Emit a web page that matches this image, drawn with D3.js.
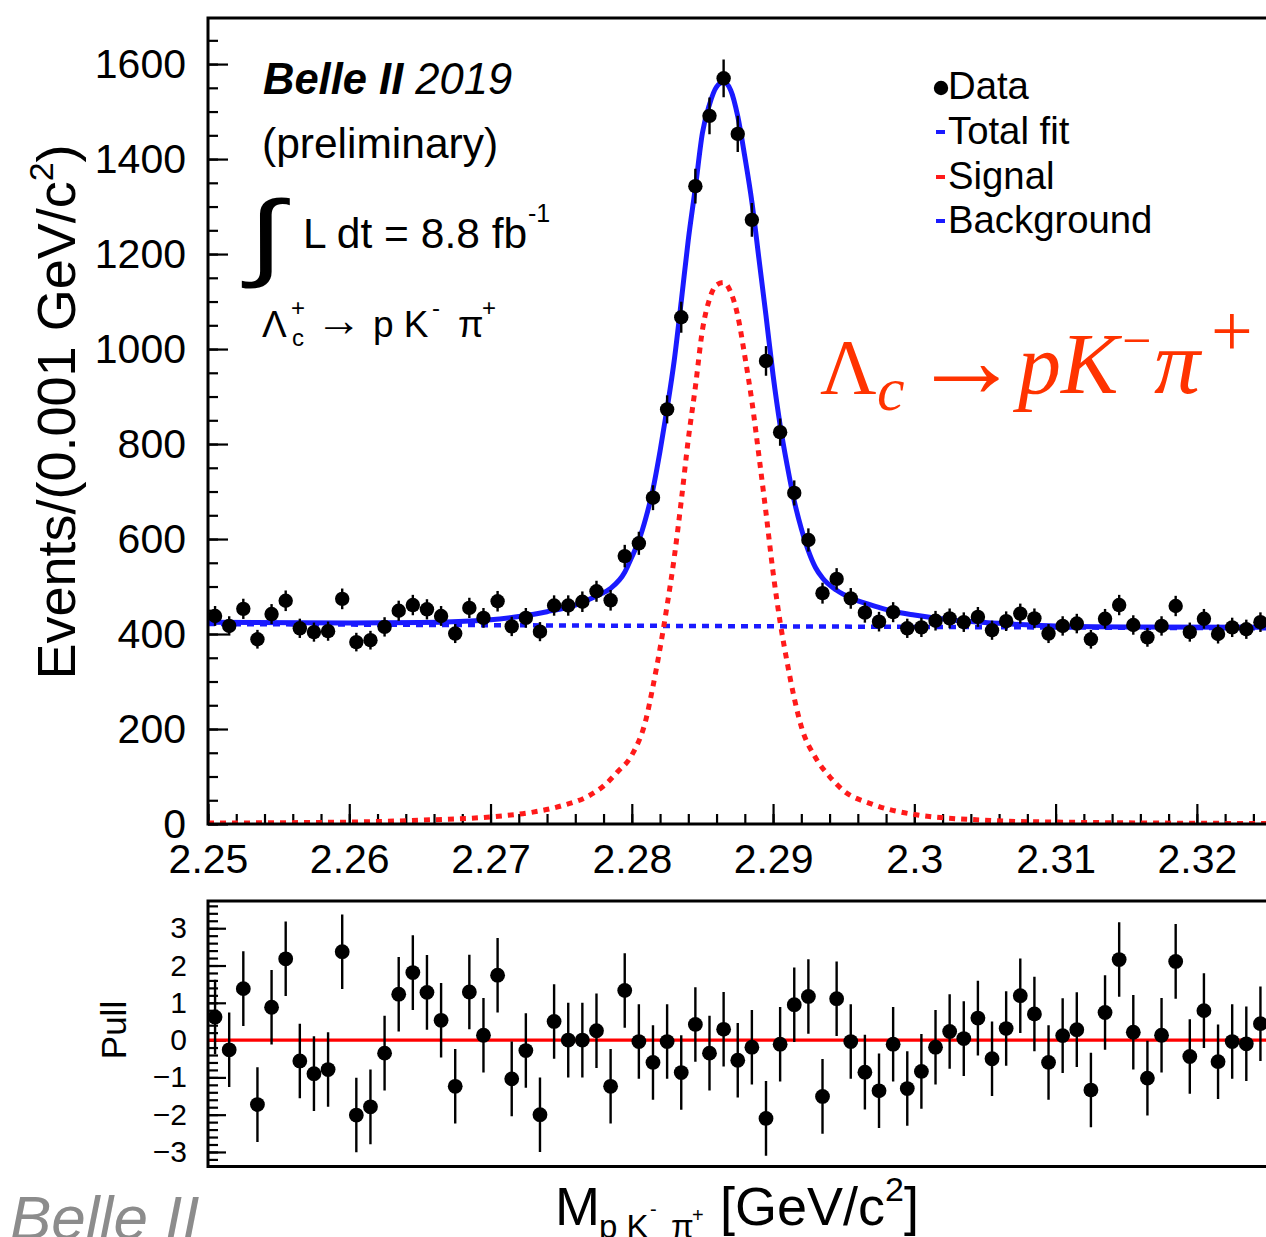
<!DOCTYPE html>
<html><head><meta charset="utf-8">
<script src="https://cdn.jsdelivr.net/npm/d3@7"></script>
<style>
body{margin:0;background:#fff;}
svg{display:block;font-family:"Liberation Sans",Arial,Helvetica,sans-serif;}
</style>
</head><body>
<svg id="c" width="1266" height="1237"></svg>
<script>
// ---------------- data ----------------
const binLow = 2.25, binWidth = 0.001;
const counts = [438,417,453,389,442,470,412,404,406,474,383,387,415,449,461,452,438,401,455,434,
  469,416,434,405,460,460,468,490,471,564,591,687,873,1067,1343,1491,1570,1453,1272,975,
  825,697,598,486,516,475,445,426,446,412,414,428,433,425,436,408,427,443,433,401,
  417,422,389,432,461,419,393,417,459,404,432,400,414,410,425];
const pulls = [0.62,-0.26,1.38,-1.73,0.88,2.18,-0.56,-0.90,-0.79,2.37,-2.01,-1.79,-0.35,1.23,1.81,1.28,0.53,-1.24,1.29,0.13,
  1.74,-1.04,-0.28,-2.00,0.50,0.00,0.00,0.25,-1.24,1.33,-0.04,-0.60,-0.04,-0.87,0.42,-0.35,0.29,-0.54,-0.19,-2.10,
  -0.11,0.95,1.17,-1.51,1.11,-0.04,-0.86,-1.36,-0.11,-1.30,-0.84,-0.19,0.23,0.04,0.59,-0.50,0.31,1.19,0.70,-0.60,
  0.12,0.28,-1.34,0.74,2.16,0.21,-1.02,0.13,2.11,-0.44,0.79,-0.58,-0.04,-0.10,0.44];
const totalFitX = [2.2500,2.2600,2.2650,2.2700,2.2720,2.2740,2.2760,2.2775,2.2785,2.2795,2.2800,2.2805,2.2810,2.2815,2.2820,2.2825,2.2830,2.2835,2.2840,2.2845,2.2850,2.2855,2.2860,2.2865,2.2870,2.2875,2.2880,2.2885,2.2890,2.2895,2.2900,2.2905,2.2910,2.2915,2.2920,2.2925,2.2930,2.2935,2.2945,2.2955,2.2965,2.2975,2.2985,2.3000,2.3025,2.3050,2.3075,2.3100,2.3150,2.3250];
const totalFitY = [425,423,424,430,437,447,461,480,496,530,562,597,645,705,785,875,975,1100,1230,1340,1455,1515,1552,1562,1545,1490,1405,1310,1190,1070,945,840,755,680,622,575,540,518,492,476,465,456,448,440,430,424,420,417,415,414];
const signalX = [2.2500,2.2600,2.2650,2.2700,2.2730,2.2750,2.2770,2.2780,2.2790,2.2800,2.2810,2.2815,2.2820,2.2825,2.2830,2.2835,2.2840,2.2845,2.2850,2.2855,2.2860,2.2865,2.2870,2.2875,2.2880,2.2885,2.2890,2.2895,2.2900,2.2905,2.2910,2.2915,2.2920,2.2930,2.2940,2.2950,2.2970,2.3000,2.3050,2.3100,2.3250];
const signalY = [2,4,8,15,25,38,60,80,110,145,220,290,370,460,560,680,810,920,1040,1105,1135,1140,1120,1070,985,890,775,655,530,425,340,265,205,140,100,70,42,20,8,4,1];
const bkgX = [2.25,2.325];
const bkgY = [421,412];
const xTicks = [2.25,2.26,2.27,2.28,2.29,2.30,2.31,2.32];
const xTickLabels = ["2.25","2.26","2.27","2.28","2.29","2.3","2.31","2.32"];
const yTicks = [0,200,400,600,800,1000,1200,1400,1600];
const pullTicks = [-3,-2,-1,0,1,2,3];
const legendLabels = ["Data","Total fit","Signal","Background"];

// ---------------- scales ----------------
const svg = d3.select("#c");
const X0 = 208, X1 = 1267.5;
const x = d3.scaleLinear().domain([2.25,2.325]).range([X0,X1]);
const y = d3.scaleLinear().domain([0,1697]).range([824,18]);
const yp = d3.scaleLinear().domain([-3.39,3.73]).range([1166.5,901]);

const defs = svg.append("defs");
defs.append("clipPath").attr("id","clipTop").append("rect")
  .attr("x",X0).attr("y",y.range()[1]).attr("width",X1-X0).attr("height",y.range()[0]-y.range()[1]);
defs.append("clipPath").attr("id","clipPull").append("rect")
  .attr("x",X0).attr("y",yp.range()[1]).attr("width",X1-X0).attr("height",yp.range()[0]-yp.range()[1]);

const centers = counts.map((c,i)=>binLow + (i+0.5)*binWidth);

// ---------------- axes ----------------
function styleAxis(g, fs){
  g.select(".domain").remove();
  g.attr("font-family",null);
  g.selectAll(".tick line").attr("stroke","#000").attr("stroke-width",2.2);
  g.selectAll(".tick text").attr("font-size",fs).attr("fill","#000");
}
svg.append("g").attr("transform",`translate(${X0},0)`)
  .call(d3.axisLeft(y).tickValues(d3.range(0,1697,50)).tickSize(-10).tickFormat(""))
  .call(g=>styleAxis(g,0));
svg.append("g").attr("transform",`translate(${X0},0)`)
  .call(d3.axisLeft(y).tickValues(yTicks).tickSize(-20).tickPadding(22).tickFormat(d3.format("d")))
  .call(g=>styleAxis(g,41));
svg.append("g").attr("transform","translate(0,824)")
  .call(d3.axisBottom(x).tickValues(d3.range(0,38).map(i=>2.25+i*0.002)).tickSize(-10).tickFormat(""))
  .call(g=>styleAxis(g,0));
svg.append("g").attr("transform","translate(0,824)")
  .call(d3.axisBottom(x).tickValues(xTicks).tickSize(-20).tickPadding(20).tickFormat((d,i)=>xTickLabels[i]))
  .call(g=>styleAxis(g,41));
svg.append("g").attr("transform",`translate(${X0},0)`)
  .call(d3.axisLeft(yp).tickValues(d3.range(-16,19).map(i=>i*0.2)).tickSize(-10).tickFormat(""))
  .call(g=>styleAxis(g,0));
svg.append("g").attr("transform",`translate(${X0},0)`)
  .call(d3.axisLeft(yp).tickValues(pullTicks).tickSize(-18).tickPadding(21).tickFormat(d3.format("d")))
  .call(g=>styleAxis(g,30));

// ---------------- curves ----------------
const topG = svg.append("g").attr("clip-path","url(#clipTop)");
const lineTop = d3.line().x(d=>x(d[0])).y(d=>y(d[1])).curve(d3.curveMonotoneX);
topG.append("path").datum(bkgX.map((v,i)=>[v,bkgY[i]]))
  .attr("d",d3.line().x(d=>x(d[0])).y(d=>y(d[1])))
  .attr("fill","none").attr("stroke","#1a1aff").attr("stroke-width",4.5).attr("stroke-dasharray","7,6");
topG.append("path").datum(signalX.map((v,i)=>[v,signalY[i]]))
  .attr("d",lineTop).attr("fill","none").attr("stroke","#ff1a1a").attr("stroke-width",5).attr("stroke-dasharray","6,6");
topG.append("path").datum(totalFitX.map((v,i)=>[v,totalFitY[i]]))
  .attr("d",lineTop).attr("fill","none").attr("stroke","#1a1aff").attr("stroke-width",5);

const dg = topG.append("g");
dg.selectAll("line").data(counts).join("line")
  .attr("x1",(d,i)=>x(centers[i])).attr("x2",(d,i)=>x(centers[i]))
  .attr("y1",d=>y(d+Math.sqrt(d))).attr("y2",d=>y(d-Math.sqrt(d)))
  .attr("stroke","#000").attr("stroke-width",2.4);
dg.selectAll("circle").data(counts).join("circle")
  .attr("cx",(d,i)=>x(centers[i])).attr("cy",d=>y(d)).attr("r",7.2).attr("fill","#000");

svg.append("rect").attr("x",X0).attr("y",y.range()[1]).attr("width",X1-X0).attr("height",y.range()[0]-y.range()[1])
  .attr("fill","none").attr("stroke","#000").attr("stroke-width",3);

// ---------------- pull panel ----------------
const pg = svg.append("g").attr("clip-path","url(#clipPull)");
pg.append("line").attr("x1",X0).attr("x2",X1).attr("y1",yp(0)).attr("y2",yp(0))
  .attr("stroke","#ff0000").attr("stroke-width",3.2);
pg.selectAll("line.err").data(pulls).join("line").attr("class","err")
  .attr("x1",(d,i)=>x(centers[i])).attr("x2",(d,i)=>x(centers[i]))
  .attr("y1",d=>yp(d+1)).attr("y2",d=>yp(d-1))
  .attr("stroke","#000").attr("stroke-width",2.4);
pg.selectAll("circle").data(pulls).join("circle")
  .attr("cx",(d,i)=>x(centers[i])).attr("cy",d=>yp(d)).attr("r",7.4).attr("fill","#000");
svg.append("rect").attr("x",X0).attr("y",yp.range()[1]).attr("width",X1-X0).attr("height",yp.range()[0]-yp.range()[1])
  .attr("fill","none").attr("stroke","#000").attr("stroke-width",3);

// ---------------- axis titles ----------------
const yt = svg.append("text").attr("transform","translate(75,412) rotate(-90)")
  .attr("text-anchor","middle").attr("font-size",54).attr("fill","#000");
yt.append("tspan").text("Events/(0.001 GeV/c");
yt.append("tspan").attr("font-size",34).attr("dy",-22).text("2");
yt.append("tspan").attr("dy",22).text(")");

svg.append("text").attr("transform","translate(126,1030) rotate(-90)")
  .attr("text-anchor","middle").attr("font-size",35).text("Pull");

svg.append("text").attr("x",555).attr("y",1225).attr("font-size",54).text("M");
svg.append("text").attr("x",599).attr("y",1238).attr("font-size",33).text("p K");
svg.append("text").attr("x",650).attr("y",1216).attr("font-size",20).text("-");
svg.append("text").attr("x",671).attr("y",1238).attr("font-size",33).text("π");
svg.append("text").attr("x",692).attr("y",1222).attr("font-size",20).text("+");
const xt = svg.append("text").attr("x",720).attr("y",1225).attr("font-size",54);
xt.append("tspan").text("[GeV/c");
xt.append("tspan").attr("font-size",34).attr("dy",-24).text("2");
xt.append("tspan").attr("dy",24).text("]");

// ---------------- annotations ----------------
const t1 = svg.append("text").attr("x",263).attr("y",94).attr("font-size",43.5).attr("font-style","italic");
t1.append("tspan").attr("font-weight","bold").text("Belle II");
t1.append("tspan").text(" 2019");
svg.append("text").attr("x",262).attr("y",158).attr("font-size",42.5).text("(preliminary)");
svg.append("text").attr("transform","translate(248,268) scale(1.35,1)").attr("font-size",96).text("∫");
svg.append("text").attr("x",303).attr("y",248).attr("font-size",42.5).text("L dt = 8.8 fb");
svg.append("text").attr("x",528).attr("y",222).attr("font-size",25).text("-1");

svg.append("text").attr("x",262).attr("y",337).attr("font-size",37).text("Λ");
svg.append("text").attr("x",291).attr("y",316).attr("font-size",24).text("+");
svg.append("text").attr("x",292).attr("y",346).attr("font-size",24).text("c");
svg.append("text").attr("x",316).attr("y",336).attr("font-size",46).text("→");
svg.append("text").attr("x",373).attr("y",337).attr("font-size",37).text("p K");
svg.append("text").attr("x",432).attr("y",316).attr("font-size",24).text("-");
svg.append("text").attr("x",458).attr("y",337).attr("font-size",37).text("π");
svg.append("text").attr("x",482).attr("y",316).attr("font-size",24).text("+");

// red annotation (serif)
const red = "#ff3300";
const serif = "'Liberation Serif','Times New Roman',serif";
function redText(xx, yy, fs, txt, italic){
  svg.append("text").attr("x",xx).attr("y",yy).attr("font-size",fs)
    .style("font-family",serif).style("font-style",italic?"italic":"normal")
    .attr("fill",red).text(txt);
}
redText(820,393,78,"Λ",false);
redText(877,410,62,"c",true);
redText(912,397,109,"→",false);
redText(1018,393,86,"pK",true);
redText(1122,358,52,"−",false);
redText(1154,393,92,"π",true);
redText(1211,356,74,"+",false);

// ---------------- legend ----------------
const lg = svg.append("g");
const legY = [99,144,189,233];
lg.selectAll("text").data(legendLabels).join("text")
  .attr("x",948).attr("y",(d,i)=>legY[i]).attr("font-size",38.3).text(d=>d);
lg.append("circle").attr("cx",941).attr("cy",88).attr("r",7.2).attr("fill","#000");
const legCol = [null,"#1a1aff","#ff1a1a","#1a1aff"];
[1,2,3].forEach(i=>{
  lg.append("line").attr("x1",936).attr("x2",945).attr("y1",legY[i]-12).attr("y2",legY[i]-12)
    .attr("stroke",legCol[i]).attr("stroke-width",4);
});

// bottom-left watermark
svg.append("text").attr("x",10).attr("y",1239).attr("font-size",62).attr("font-style","italic")
  .attr("fill","#8c8c8c").text("Belle II");
</script>
</body></html>
